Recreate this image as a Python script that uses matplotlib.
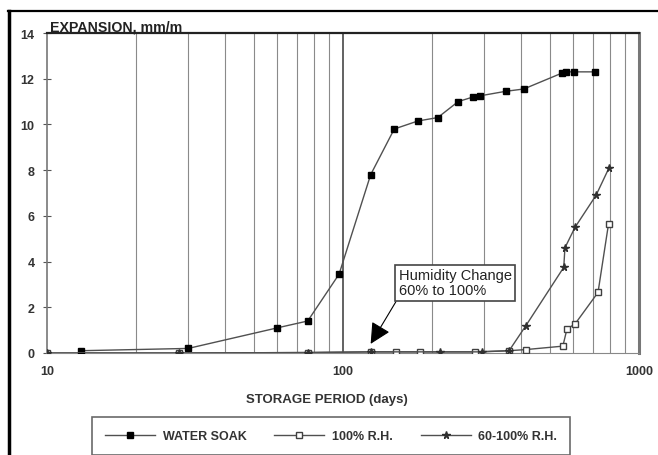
import matplotlib.pyplot as plt
from matplotlib.ticker import NullFormatter, FixedLocator

plt.rcParams['font.family'] = ['Liberation Sans', 'DejaVu Sans']

# expansion readings, storage period in days
soak_days = [13, 30, 60, 76, 97, 124, 149, 179, 209, 245, 275, 290, 355, 408, 550, 567, 603, 710]
soak_exp = [0.1, 0.2, 1.1, 1.4, 3.45, 7.8, 9.8, 10.15, 10.3, 11.0, 11.2, 11.25, 11.45, 11.55, 12.25, 12.3, 12.3, 12.3]

rh100_days = [10, 28, 76, 124, 151, 182, 279, 364, 415, 553, 571, 608, 727, 789]
rh100_exp = [0.0, 0.0, 0.02, 0.05, 0.05, 0.05, 0.05, 0.1, 0.15, 0.3, 1.05, 1.27, 2.65, 5.65]

rh60_days = [10, 28, 76, 124, 213, 295, 364, 415, 557, 562, 608, 716, 792]
rh60_exp = [0.0, 0.0, 0.02, 0.05, 0.05, 0.05, 0.1, 1.2, 3.75, 4.6, 5.5, 6.9, 8.1]

y_ticks = [0, 2, 4, 6, 8, 10, 12, 14]
x_ticks = [10, 100, 1000]

fig = plt.figure(figsize=(6.58, 4.56), dpi=100)
ax = fig.add_axes([47 / 658, 1 - 354 / 456, 592 / 658, 320 / 456])

ax.set_xscale('log')
ax.set_xlim(10, 1000)
ax.set_ylim(0, 14)

# vertical grid at every log subdivision
minor = [m * d for d in (10, 100) for m in range(2, 10)]
ax.xaxis.set_major_locator(FixedLocator(x_ticks))
ax.xaxis.set_minor_locator(FixedLocator(minor))
ax.xaxis.set_minor_formatter(NullFormatter())
ax.set_xticklabels([str(t) for t in x_ticks])
for xv in minor:
    ax.axvline(xv, color='#8a8a8a', lw=0.8, zorder=1)
ax.axvline(100, color='#555555', lw=1.3, zorder=1)

line_kw = dict(color='#505050', lw=1.0, zorder=3)
ax.plot(soak_days, soak_exp, marker='s', ms=5, mfc='black', mec='black',
        label='WATER SOAK', **line_kw)
ax.plot(rh100_days, rh100_exp, marker='s', ms=5, mfc='white', mec='#404040',
        label='100% R.H.', **line_kw)
ax.plot(rh60_days, rh60_exp, marker='*', ms=5.5, mfc='#303030', mec='#303030',
        label='60-100% R.H.', **line_kw)

ax.set_yticks(y_ticks)
ax.tick_params(axis='y', direction='inout', length=6, width=0.8, color='#555555',
               labelsize=9, pad=6)
ax.tick_params(axis='x', which='both', length=0, labelsize=9, pad=9)
for lab in ax.get_xticklabels() + ax.get_yticklabels():
    lab.set_fontweight('bold')
    lab.set_color('#333333')

ax.spines['top'].set_color('#222222')
ax.spines['top'].set_linewidth(1.6)
ax.spines['right'].set_color('#777777')
ax.spines['right'].set_linewidth(2.2)
ax.spines['left'].set_color('#777777')
ax.spines['left'].set_linewidth(1.2)
ax.spines['bottom'].set_color('#888888')
ax.spines['bottom'].set_linewidth(0.8)

ax.text(0.005, 1.0, 'EXPANSION, mm/m', transform=ax.transAxes, ha='left', va='bottom',
        fontsize=10.2, fontweight='bold', color='#222222')
ax.set_xlabel('STORAGE PERIOD (days)', fontsize=9.5, fontweight='bold', color='#333333')
ax.xaxis.set_label_coords(0.473, -0.125)

ax.annotate('Humidity Change\n60% to 100%', xy=(124, 0.4), xytext=(154, 3.07),
            fontsize=10.5, color='#222222', ha='left', va='center', linespacing=1.1,
            bbox=dict(boxstyle='square,pad=0.25', fc='white', ec='#444444', lw=1.2),
            arrowprops=dict(arrowstyle='-|>', color='black', lw=0.8, relpos=(0, 0),
                            mutation_scale=32, shrinkA=0, shrinkB=0),
            zorder=5)

leg = fig.legend(loc='upper left', bbox_to_anchor=(92 / 658, 1 - 418 / 456, 478 / 658, 0),
                 mode='expand', ncol=3, fontsize=9, handlelength=4.0, handletextpad=0.6,
                 borderpad=1.05, frameon=True, fancybox=False, edgecolor='#444444',
                 borderaxespad=0)
leg.get_frame().set_linewidth(1.2)
for t in leg.get_texts():
    t.set_fontweight('bold')
    t.set_color('#333333')

# outer frame edges
fig.add_artist(plt.Line2D([8 / 658, 1], [1 - 12 / 456] * 2, transform=fig.transFigure,
                          color='black', lw=1.6))
fig.add_artist(plt.Line2D([9 / 658] * 2, [0, 1 - 12 / 456], transform=fig.transFigure,
                          color='black', lw=2.5))

fig.savefig('out.png', dpi=100)
